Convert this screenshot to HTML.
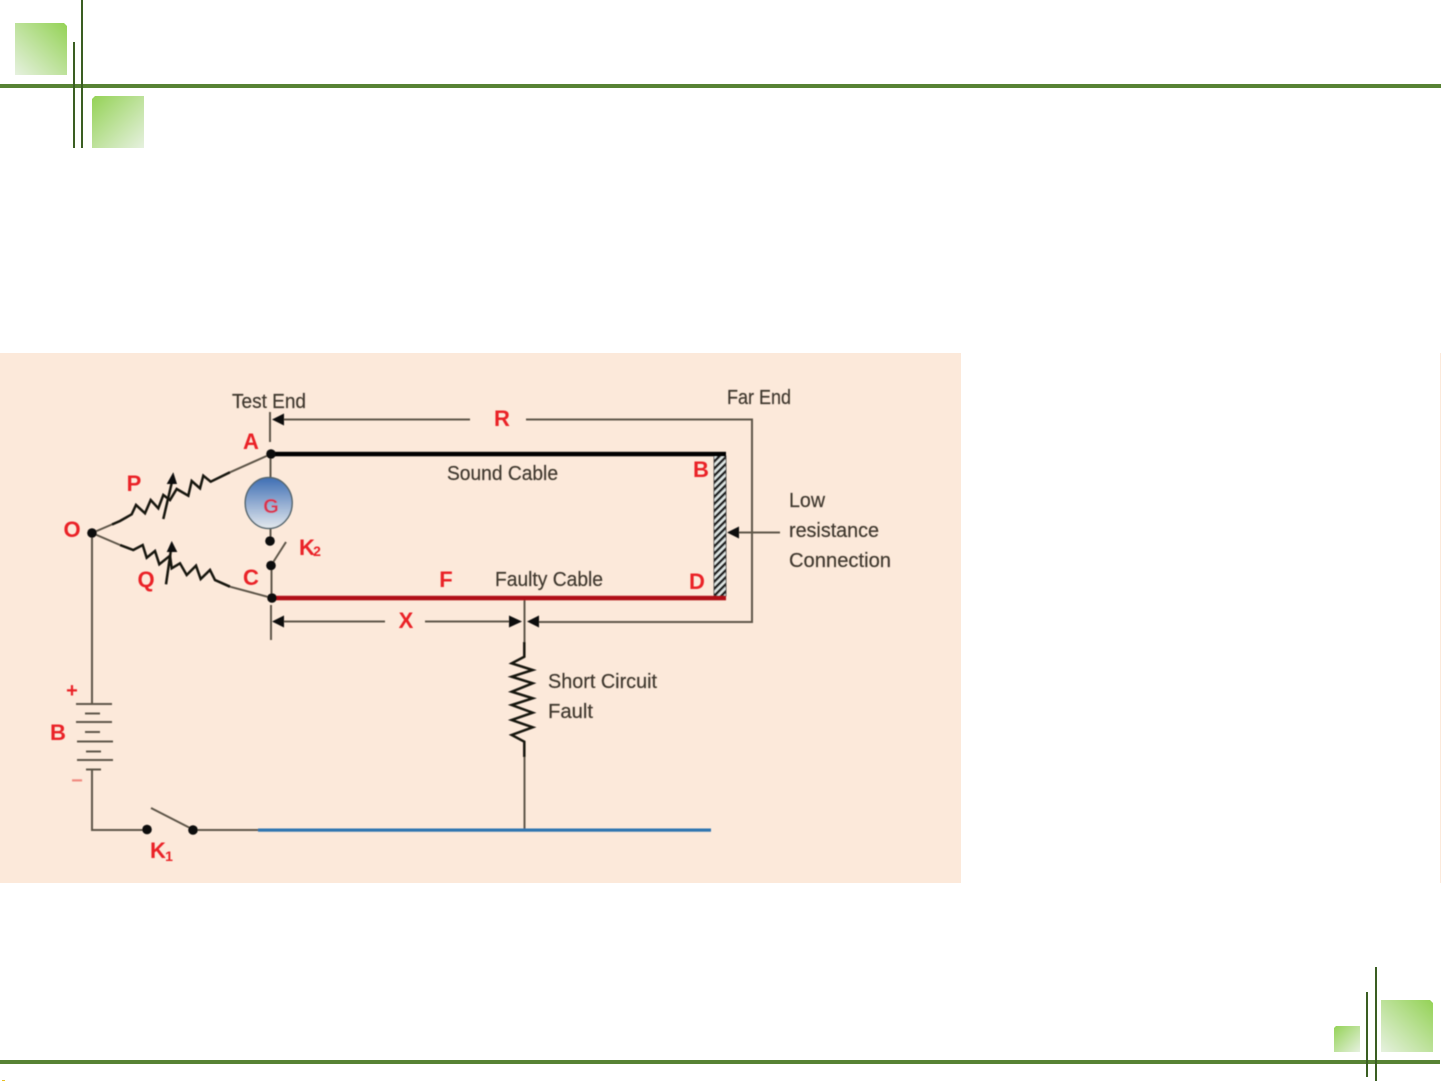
<!DOCTYPE html>
<html>
<head>
<meta charset="utf-8">
<style>
html,body{margin:0;padding:0;background:#fff;width:1441px;height:1081px;overflow:hidden}
svg{display:block}
text{font-family:"Liberation Sans",sans-serif}
.d{fill:#3f382e;font-size:20px;stroke:#3f382e;stroke-width:0.2px}
.r{fill:#ea2028;font-size:22px;font-weight:bold;text-anchor:middle}
</style>
</head>
<body>
<svg width="1441" height="1081" viewBox="0 0 1441 1081" xmlns="http://www.w3.org/2000/svg">
<defs>
<linearGradient id="g1" x1="0" y1="1" x2="1" y2="0"><stop offset="0" stop-color="#e6f1df"/><stop offset="1" stop-color="#94d256"/></linearGradient>
<linearGradient id="g2" x1="0" y1="0" x2="1" y2="1"><stop offset="0" stop-color="#94d256"/><stop offset="1" stop-color="#e6f1df"/></linearGradient>
<linearGradient id="gb" x1="0" y1="0" x2="0" y2="1"><stop offset="0" stop-color="#3e6eb4"/><stop offset="1" stop-color="#e4e9ee"/></linearGradient>
<pattern id="h" width="5" height="5" patternUnits="userSpaceOnUse" patternTransform="rotate(45)">
<rect width="5" height="5" fill="#e4ecea"/><rect width="2.700" height="5" fill="#1c1c1c"/>
</pattern>
<filter id="b" x="-2%" y="-2%" width="104%" height="104%"><feGaussianBlur stdDeviation="0.65"/></filter>
</defs>

<!-- slide decoration -->
<rect x="0" y="84" width="1441" height="4" fill="#578234"/>
<rect x="0" y="1060" width="1440" height="4" fill="#578234"/>
<rect x="81" y="0" width="2" height="148" fill="#3a5e22"/>
<rect x="73" y="42" width="2" height="106" fill="#3a5e22"/>
<polygon points="15,23 64,23 67,26 67,75 15,75" fill="url(#g1)"/>
<polygon points="95,96 144,96 144,148 92,148 92,99" fill="url(#g2)"/>
<rect x="1375" y="967" width="2" height="114" fill="#3a5e22"/>
<rect x="1366" y="992" width="2" height="85" fill="#3a5e22"/>
<polygon points="1381,1000 1430,1000 1433,1003 1433,1052 1381,1052" fill="url(#g1)"/>
<polygon points="1336,1026 1360,1026 1360,1052 1334,1052 1334,1028" fill="url(#g2)"/>
<rect x="1440" y="353" width="1" height="530" fill="#fce9da"/>
<rect x="2" y="1080" width="3" height="1" fill="#e8c020"/>

<!-- diagram background -->
<rect x="0" y="353" width="961" height="530" fill="#fce9da"/>

<g filter="url(#b)">
<!-- thin wires -->
<g fill="none" stroke="#5f564a" stroke-width="2">
<path d="M270 412V442"/>
<path d="M271 605V640"/>
<path d="M284 419.500H470M526 419.500H752V622H539"/>
<path d="M284 621.500H385M425 621.500H510"/>
<path d="M270.500 454V480M270.500 526V541"/>
<path d="M271.500 565V598"/>
<path d="M272 564L286 542"/>
<path d="M92 533V704M92 770V830H147M193 830H258"/>
<path d="M151 808L192 829"/>
<path d="M524.500 598V642M524.500 757V830"/>
<path d="M739 532.500H780"/>
<path d="M76 704H112M76 722H112M77 741.500H113M77 760H113"/>
<path d="M85 713.500H100M85 732H100M86 751.500H101M86 769.500H101"/>
<path d="M92 533L120 521M230 472.300L271 454M92 533L120 545M230 586.700L272 598"/>
</g>

<!-- resistors -->
<g fill="none" stroke="#14120f" stroke-width="2.500" stroke-linejoin="miter">
<path d="M112 524.500L120 521L131.700 514.300L136 505L145 513.300L150.700 500L158.300 508.300L163.300 495L170 500L176.700 489L188.300 495.700L191.700 481L200 488.300L203.300 475.700L210.700 481.700L230 472.300"/>
<path d="M120 545L133.300 550L142.700 545L146.700 557.700L155 551L159.300 564.300L170 555.700L171.700 568.300L180 563.300L186.700 575L196 565.700L200.700 579L210 570L215 580L230 586.700"/>
<path d="M524.300 642V656.700L511.700 663.300L532.700 670L511.700 676.700L532.700 683.300L511.700 691.700L532.700 698.300L511.700 705L532.700 712.700L511.700 720L532.700 727.300L511.700 735L524.300 741.700V757"/>
<path d="M163.300 519L171.700 483"/>
<path d="M166 584.300L170.700 551.700"/>
</g>
<g fill="#0a0a0a">
<polygon points="173.300,472.300 166.700,484 177,484"/>
<polygon points="171.700,541 166.700,552 177.300,552"/>
</g>

<!-- cables -->
<rect x="714" y="456" width="12" height="140" fill="url(#h)" stroke="#3a3a3a" stroke-width="0.800"/>
<rect x="271" y="451.800" width="455" height="4.500" fill="#050505"/>
<rect x="272" y="595.800" width="454" height="4.500" fill="#b00f14"/>
<rect x="258" y="828.500" width="453" height="3.200" fill="#2f74b0"/>

<!-- arrowheads -->
<g fill="#0a0a0a">
<polygon points="272,419.500 284,413.500 284,425.500"/>
<polygon points="272,621.500 284,615.500 284,627.500"/>
<polygon points="522,621.500 509,615.500 509,627.500"/>
<polygon points="527,621.500 539,615.500 539,627.500"/>
<polygon points="727,532.500 739,526.500 739,538.500"/>
<circle cx="92" cy="533" r="4.800"/>
<circle cx="271" cy="454" r="4.800"/>
<circle cx="272" cy="598" r="4.800"/>
<circle cx="270" cy="541" r="4.800"/>
<circle cx="271" cy="565.500" r="4.800"/>
<circle cx="147" cy="829.500" r="4.800"/>
<circle cx="193" cy="830" r="4.800"/>
</g>

<!-- galvanometer -->
<ellipse cx="268.700" cy="503" rx="23.500" ry="25.500" fill="url(#gb)" stroke="#55666e" stroke-width="1.500"/>

<!-- dark labels -->
<text class="d" x="232" y="408" textLength="74" lengthAdjust="spacingAndGlyphs">Test End</text>
<text class="d" x="727" y="404" textLength="64" lengthAdjust="spacingAndGlyphs">Far End</text>
<text class="d" x="447" y="480" textLength="111" lengthAdjust="spacingAndGlyphs">Sound Cable</text>
<text class="d" x="495" y="586" textLength="108" lengthAdjust="spacingAndGlyphs">Faulty Cable</text>
<text class="d" x="789" y="507" textLength="36" lengthAdjust="spacingAndGlyphs">Low</text>
<text class="d" x="789" y="537" textLength="90" lengthAdjust="spacingAndGlyphs">resistance</text>
<text class="d" x="789" y="567" textLength="102" lengthAdjust="spacingAndGlyphs">Connection</text>
<text class="d" x="548" y="688" textLength="109" lengthAdjust="spacingAndGlyphs">Short Circuit</text>
<text class="d" x="548" y="718" textLength="45" lengthAdjust="spacingAndGlyphs">Fault</text>

<!-- red labels -->
<text class="r" x="251" y="449">A</text>
<text class="r" x="134" y="491">P</text>
<text class="r" x="72" y="537">O</text>
<text class="r" x="146" y="587">Q</text>
<text class="r" x="251" y="585">C</text>
<text class="r" x="701" y="477">B</text>
<text class="r" x="697" y="589">D</text>
<text class="r" x="446" y="587">F</text>
<text class="r" x="502" y="426">R</text>
<text class="r" x="406" y="628">X</text>
<text class="r" x="271" y="513" style="fill:#d8364f;font-size:20px">G</text>
<text class="r" x="58" y="740">B</text>
<text class="r" x="72" y="697" style="font-size:20px">+</text>
<text class="r" x="77" y="787" style="fill:#f08a80;font-size:20px">−</text>
<text class="r" x="307" y="555">K</text>
<text class="r" x="317" y="556" style="font-size:14px">2</text>
<text class="r" x="158" y="858">K</text>
<text class="r" x="169" y="861" style="font-size:14px">1</text>
</g>
</svg>
</body>
</html>
